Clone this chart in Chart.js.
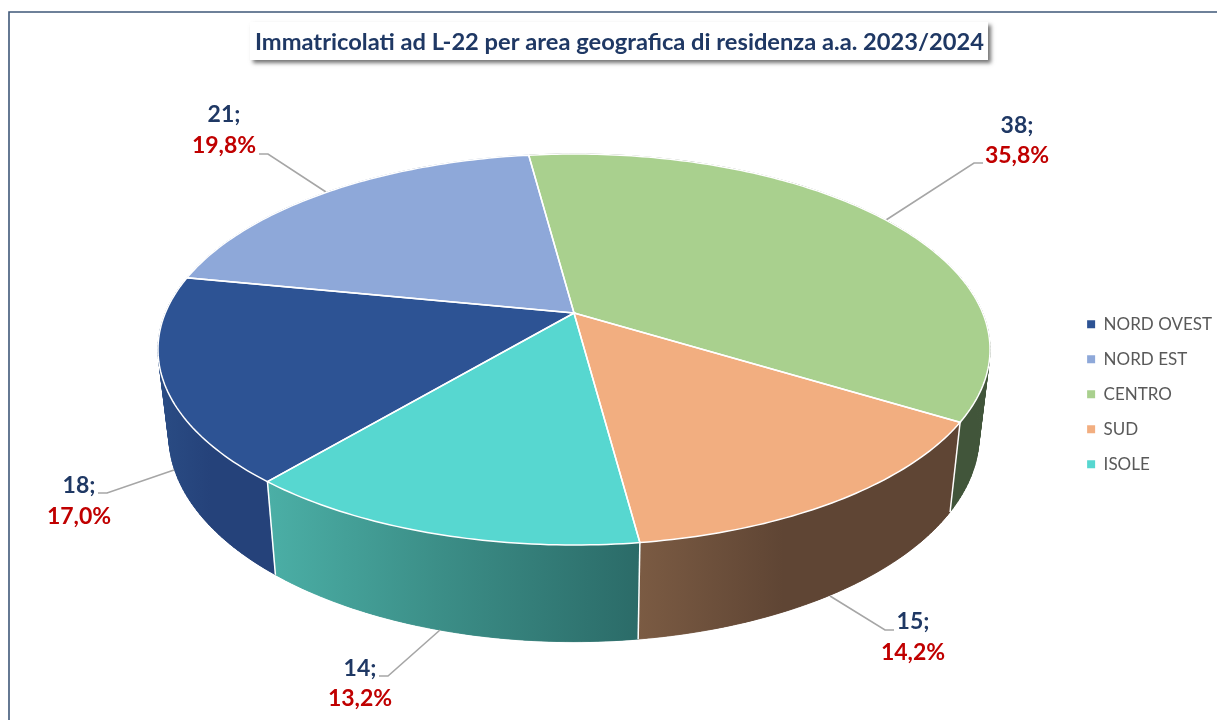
<!DOCTYPE html>
<html>
<head>
<meta charset="utf-8">
<title>Immatricolati ad L-22</title>
<script src="https://cdn.jsdelivr.net/npm/chart.js@4"></script>
<style>
  html, body { margin: 0; padding: 0; background: #fff; }
  canvas { display: block; }
</style>
</head>
<body>
<canvas id="pieChart" width="1217" height="720"></canvas>
<script>
const areas = ['NORD OVEST', 'NORD EST', 'CENTRO', 'SUD', 'ISOLE'];
const students = [18, 21, 38, 15, 14];
const titleText = 'Immatricolati ad L-22 per area geografica di residenza a.a. 2023/2024';

const topColors = ['#2d5394', '#8ea8d9', '#a9d08e', '#f2ae80', '#57d7d0'];
const wallLeft = ['#2a4c84', '#5a7199', '#41553a', '#7b5b43', '#4bafa6'];
const wallMiddle = ['#25427a', '#5a7199', '#41553a', '#5f4534', '#3c8f88'];
const wallRight = ['#25427a', '#5a7199', '#41553a', '#5f4534', '#2b6b68'];

// perspective of the 3d pie, measured on the picture
const view = { cx: 574, cy: 313, a: 408.7, b: 188.7, tilt: 0.1867, shrink: 0.974, depth: 83.5 };

// callouts: text centre x, y of the two rows, then the leader line
const callouts = [
  { x: 79, y1: 486, y2: 517, line: [[98, 493], [107, 493], [174, 470]] },
  { x: 224, y1: 115, y2: 146, line: [[259, 154], [268, 154], [326, 192]] },
  { x: 1017, y1: 126, y2: 156, line: [[983, 163], [974, 163], [886, 220]] },
  { x: 913, y1: 622, y2: 653, line: [[894, 630], [885, 630], [830, 596]] },
  { x: 360, y1: 669, y2: 699, line: [[379, 676], [388, 676], [440, 630]] }
];

function project(angle, radius, low) {
  const x = radius * Math.cos(angle);
  const y = radius * Math.sin(angle);
  const w = 1 - view.tilt * y;
  const k = low ? view.shrink : 1;
  return {
    x: view.cx + k * view.a * x / w,
    y: view.cy + (k * view.b * y + (low ? view.depth : 0)) / w
  };
}

function arcPoints(start, end, low) {
  const pts = [];
  const steps = Math.max(8, Math.ceil((end - start) * 60));
  for (let i = 0; i <= steps; i++) {
    pts.push(project(start + (end - start) * i / steps, 1, low));
  }
  return pts;
}

function tracePoints(ctx, pts) {
  pts.forEach((p, i) => i ? ctx.lineTo(p.x, p.y) : ctx.moveTo(p.x, p.y));
}

function traceSlice(ctx, arc) {
  const centre = project(0, 0, false);
  ctx.beginPath();
  tracePoints(ctx, [centre].concat(arcPoints(arc.startAngle, arc.endAngle, false)));
  ctx.closePath();
}

const pie3d = {
  id: 'pie3d',
  beforeDraw(chart) {
    const ctx = chart.ctx;
    ctx.save();
    ctx.fillStyle = '#fff';
    ctx.fillRect(0, 0, chart.width, chart.height);
    // frame of the sheet
    ctx.strokeStyle = '#3f5878';
    ctx.lineWidth = 1.6;
    ctx.beginPath();
    ctx.moveTo(9, 720);
    ctx.lineTo(9, 12);
    ctx.lineTo(1217, 12);
    ctx.stroke();
    // title box
    ctx.shadowColor = 'rgba(0,0,0,0.55)';
    ctx.shadowBlur = 4;
    ctx.shadowOffsetX = 3;
    ctx.shadowOffsetY = 3;
    ctx.fillRect(250, 22, 738, 38);
    ctx.restore();
  },
  beforeDatasetDraw(chart, args) {
    const ctx = chart.ctx;
    const arcs = chart.getDatasetMeta(args.index).data;
    ctx.save();

    // side walls: one fill for the body, then quads so the side silhouettes stay straight
    arcs.forEach((arc, i) => {
      const upper = arcPoints(arc.startAngle, arc.endAngle, false);
      const lower = arcPoints(arc.startAngle, arc.endAngle, true);
      const xs = upper.concat(lower).map(p => p.x);
      const grad = ctx.createLinearGradient(Math.min(...xs), 0, Math.max(...xs), 0);
      grad.addColorStop(0, wallLeft[i]);
      grad.addColorStop(0.45, wallMiddle[i]);
      grad.addColorStop(1, wallRight[i]);
      ctx.fillStyle = grad;
      ctx.strokeStyle = grad;
      ctx.lineWidth = 0.8;
      for (let j = 0; j < upper.length - 1; j++) {
        ctx.beginPath();
        tracePoints(ctx, [upper[j], upper[j + 1], lower[j + 1], lower[j]]);
        ctx.closePath();
        ctx.fill();
        ctx.stroke();
      }
      ctx.beginPath();
      tracePoints(ctx, upper.concat(lower.slice().reverse()));
      ctx.closePath();
      ctx.fill();
    });

    // white edges between the walls
    ctx.strokeStyle = '#fff';
    ctx.lineWidth = 1.5;
    arcs.forEach(arc => {
      const a = project(arc.startAngle, 1, false);
      const b = project(arc.startAngle, 1, true);
      ctx.beginPath();
      ctx.moveTo(a.x, a.y);
      ctx.lineTo(b.x, b.y);
      ctx.stroke();
    });

    // leader lines
    ctx.strokeStyle = '#a6a6a6';
    ctx.lineWidth = 1.6;
    callouts.forEach(c => {
      ctx.beginPath();
      c.line.forEach((p, j) => j ? ctx.lineTo(p[0], p[1]) : ctx.moveTo(p[0], p[1]));
      ctx.stroke();
    });

    // top of the pie
    arcs.forEach((arc, i) => {
      traceSlice(ctx, arc);
      ctx.fillStyle = topColors[i];
      ctx.fill();
    });
    arcs.forEach(arc => {
      traceSlice(ctx, arc);
      ctx.strokeStyle = '#fff';
      ctx.lineWidth = 1.5;
      ctx.stroke();
    });
    ctx.restore();
    return false;
  },
  afterDraw(chart) {
    const ctx = chart.ctx;
    const total = students.reduce((a, b) => a + b, 0);
    ctx.save();
    ctx.font = 'bold 23px Lato';
    ctx.textAlign = 'center';
    ctx.textBaseline = 'middle';
    callouts.forEach((c, i) => {
      ctx.fillStyle = '#1f3864';
      ctx.fillText(students[i] + ';', c.x, c.y1);
      ctx.fillStyle = '#c00000';
      ctx.fillText((students[i] / total * 100).toFixed(1).replace('.', ',') + '%', c.x, c.y2);
    });
    ctx.restore();
  }
};

new Chart(document.getElementById('pieChart').getContext('2d'), {
  type: 'pie',
  data: {
    labels: areas,
    datasets: [{
      data: students,
      backgroundColor: topColors,
      borderWidth: 0
    }]
  },
  options: {
    responsive: false,
    animation: false,
    rotation: 220,
    layout: { padding: { left: 17, right: -5, top: 0, bottom: 0 } },
    plugins: {
      tooltip: { enabled: false },
      title: {
        display: true,
        text: titleText,
        color: '#1f3864',
        font: { family: 'Lato', size: 23.7, weight: 'bold' },
        padding: { top: 28, bottom: 12 }
      },
      legend: {
        position: 'right',
        fullSize: false,
        labels: {
          color: '#595959',
          font: { family: 'Lato', size: 17 },
          boxWidth: 8,
          boxHeight: 8,
          padding: 18
        }
      }
    }
  },
  plugins: [pie3d]
});
</script>
</body>
</html>
